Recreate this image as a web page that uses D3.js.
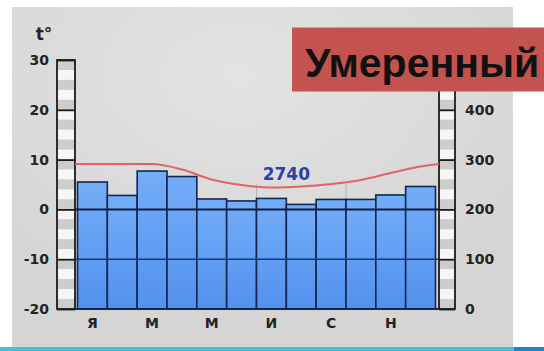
<!DOCTYPE html>
<html><head><meta charset="utf-8">
<script src="https://cdn.jsdelivr.net/npm/d3@7"></script>
<style>html,body{margin:0;padding:0;background:#fff;}svg{display:block;}</style>
</head><body>
<script>
// ---- data ----
const monthIdx = [0,1,2,3,4,5,6,7,8,9,10,11];
const monthLabels = ["Я","","М","","М","","И","","С","","Н",""];
const precip = [255,228,277,266,221,217,222,210,220,220,229,246];   // mm
const temps  = [9.1,9.1,9.1,8.0,6.0,4.9,4.4,4.6,5.1,5.9,7.3,8.6];   // °C
const tempTicks = [-20,-10,0,10,20,30];
const precipTicks = [0,100,200,300,400,500];
const precipLabelled = [0,100,200,300,400];   // 500 is hidden behind the title box
const annualTotal = "2740";
const title = "Умеренный";
const tempUnit = "t°";

const W = 544, H = 351;
const svg = d3.select("body").append("svg").attr("width", W).attr("height", H);
const defs = svg.append("defs");
const g1 = defs.append("linearGradient").attr("id","barG").attr("x1",0).attr("y1",0).attr("x2",0).attr("y2",1);
g1.append("stop").attr("offset","0%").attr("stop-color","#74adf8");
g1.append("stop").attr("offset","100%").attr("stop-color","#5291ee");
const bgG = defs.append("radialGradient").attr("id","bgG").attr("cx","45%").attr("cy","20%").attr("r","70%");
bgG.append("stop").attr("offset","0%").attr("stop-color","#e3e3e3");
bgG.append("stop").attr("offset","100%").attr("stop-color","#d5d5d5");

// page background
svg.append("rect").attr("width",W).attr("height",H).attr("fill","#ffffff");
svg.append("rect").attr("x",12).attr("y",7).attr("width",501).attr("height",340).attr("fill","url(#bgG)");
svg.append("rect").attr("x",0).attr("y",347).attr("width",W).attr("height",4).attr("fill","#3fc3dc");
svg.append("rect").attr("x",514).attr("y",347).attr("width",30).attr("height",4).attr("fill","#1f86c6");

// scales
const yT = d3.scaleLinear().domain([-20,30]).range([309,60]);
const yP = d3.scaleLinear().domain([0,500]).range([309,60]);
const x = d3.scaleBand().domain(monthIdx).range([77.5,435.5]).padding(0);
const plotL = 75, plotR = 439;

// striped axis columns
function stripeCol(x0, w){
  const steps = d3.range(30, -20, -2);
  svg.append("g").selectAll("rect").data(steps).join("rect")
    .attr("x", x0).attr("width", w)
    .attr("y", d => yT(d)).attr("height", d => yT(d-2) - yT(d))
    .attr("fill", (d,i) => i % 2 === 0 ? "#cdcdcd" : "#f6f6f6");
  svg.append("rect").attr("x", x0).attr("y", yT(30)).attr("width", w).attr("height", yT(-20)-yT(30))
    .attr("fill","none").attr("stroke","#1b1b1b").attr("stroke-width",1.8);
}
stripeCol(57, plotL-57);
stripeCol(plotR, 455-plotR);

// faint vertical guides
svg.append("g").selectAll("line").data([3,6,9]).join("line")
  .attr("x1", d => x(d)).attr("x2", d => x(d))
  .attr("y1", yT(5)).attr("y2", yT(-20))
  .attr("stroke","#9a9a9a").attr("stroke-width",1).attr("opacity",0.6);

// bars
svg.append("g").selectAll("rect").data(precip).join("rect")
  .attr("x", (d,i) => x(i)).attr("width", x.bandwidth())
  .attr("y", d => yP(d)).attr("height", d => yP(0) - yP(d))
  .attr("fill","url(#barG)").attr("stroke","#142650").attr("stroke-width",1.6);

// horizontal grid lines over bars
svg.append("line").attr("x1",plotL).attr("x2",plotR).attr("y1",yT(0)).attr("y2",yT(0))
  .attr("stroke","#0e1c44").attr("stroke-width",2);
svg.append("line").attr("x1",plotL).attr("x2",plotR).attr("y1",yT(-10)).attr("y2",yT(-10))
  .attr("stroke","#1a3474").attr("stroke-width",1.4);
svg.append("line").attr("x1",plotL).attr("x2",plotR).attr("y1",yT(-20)).attr("y2",yT(-20))
  .attr("stroke","#142650").attr("stroke-width",1.8);

// axes
const leftAx = svg.append("g").attr("transform",`translate(${plotL},0)`)
  .call(d3.axisLeft(yT).tickValues(tempTicks).tickSize(plotL-57).tickPadding(8).tickFormat(d => String(d)));
const rightAx = svg.append("g").attr("transform",`translate(${plotR},0)`)
  .call(d3.axisRight(yP).tickValues(precipTicks).tickSize(455-plotR).tickPadding(10)
    .tickFormat(d => precipLabelled.includes(d) ? String(d) : ""));
[leftAx, rightAx].forEach(a => {
  a.select(".domain").remove();
  a.selectAll(".tick line").attr("stroke","#1b1b1b").attr("stroke-width",1.8);
  a.selectAll(".tick text").attr("font-family","DejaVu Sans").attr("font-weight","bold")
    .attr("font-size",14).attr("fill","#232323");
});
const botAx = svg.append("g").attr("transform",`translate(0,${yT(-20)})`)
  .call(d3.axisBottom(x).tickSize(0).tickPadding(9).tickFormat(i => monthLabels[i]));
botAx.select(".domain").remove();
botAx.selectAll(".tick text").attr("font-family","DejaVu Sans").attr("font-weight","bold")
  .attr("font-size",14).attr("fill","#232323");

// unit label
svg.append("text").attr("x",44).attr("y",40).attr("text-anchor","middle")
  .attr("font-family","DejaVu Sans").attr("font-weight","bold").attr("font-size",17)
  .attr("fill","#232323").text(tempUnit);

// temperature line
const pts = [[plotL, temps[0]]].concat(temps.map((t,i) => [x(i)+x.bandwidth()/2, t])).concat([[plotR, temps[0]]]);
svg.append("path").datum(pts)
  .attr("d", d3.line().x(d => d[0]).y(d => yT(d[1])).curve(d3.curveMonotoneX))
  .attr("fill","none").attr("stroke","#e35d5d").attr("stroke-width",2).attr("opacity",0.95);

// annual total
svg.append("text").attr("x", x(7)).attr("y", yT(6)).attr("text-anchor","middle")
  .attr("font-family","DejaVu Sans").attr("font-weight","bold").attr("font-size",17)
  .attr("fill","#2f3fa6").text(annualTotal);

// title box
svg.append("rect").attr("x",292).attr("y",27.5).attr("width",W-292).attr("height",64)
  .attr("fill","#c4534f");
svg.append("text").attr("x",305).attr("y",77).attr("font-family","Liberation Sans, Arial, sans-serif")
  .attr("font-weight","bold").attr("font-size",41).attr("fill","#111").text(title);
</script>
</body></html>
